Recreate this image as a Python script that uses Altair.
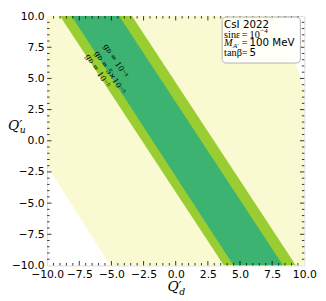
import altair as alt
import pandas as pd

# ---------------- data ----------------
# yellow region (g_D = 1e-5), horizontal area: x between xl and xr at each y
yel_y = [-10, -2.0, 4.1, 10]
yel_xl = [-5.1, -10, -10, -10]
yel_xr = [10, 10, 10, 8.1]
# light green band
lg_y = [-10, 10]
lg_xl = [3.75, -9.0]
lg_xr = [9.35, -3.4]
# dark green band
dg_y = [-10, 10]
dg_xl = [4.5, -8.1]
dg_xr = [8.35, -4.4]

band_labels = ["gᴅ = 10⁻⁴", "gᴅ = 5×10⁻⁵", "gᴅ = 10⁻⁵"]
band_lab_x = [-4.7, -5.15, -6.1]
band_lab_y = [6.4, 5.45, 5.6]

major_ticks = [-10, -7.5, -5, -2.5, 0, 2.5, 5, 7.5, 10]
inner_major = [-7.5, -5, -2.5, 0, 2.5, 5, 7.5]
minor_ticks = [-9.5, -9, -8.5, -8, -7, -6.5, -6, -5.5, -4.5, -4, -3.5, -3,
               -2, -1.5, -1, -0.5, 0.5, 1, 1.5, 2, 3, 3.5, 4, 4.5,
               5.5, 6, 6.5, 7, 8, 8.5, 9, 9.5]

W, H = 263, 255

xs = alt.Scale(domain=[-10, 10], nice=False, zero=False)
ys = alt.Scale(domain=[-10, 10], nice=False, zero=False)
ax = alt.Axis(values=major_ticks, format=".1f", title=None, ticks=False, domain=False,
              grid=False, labelFont="DejaVu Sans", labelFontSize=11, labelColor="black",
              labelPadding=3, labelFlush=False, labelOverlap=False)

def X(f):
    return alt.X(f, scale=xs, axis=ax)

def Y(f):
    return alt.Y(f, scale=ys, axis=ax)

def region(ylist, xl, xr, color):
    df = pd.DataFrame({"y": ylist, "xl": xl, "xr": xr})
    return alt.Chart(df).mark_area(orient="horizontal", clip=True, color=color).encode(
        y=Y("y:Q"), x=X("xl:Q"), x2="xr:Q")

layers = [
    region(yel_y, yel_xl, yel_xr, "#FAFAD2"),
    region(lg_y, lg_xl, lg_xr, "#9ACD32"),
    region(dg_y, dg_xl, dg_xr, "#3CB371"),
]

lab_df = pd.DataFrame({"x": band_lab_x, "y": band_lab_y, "t": band_labels})
layers.append(alt.Chart(lab_df).mark_text(angle=57, font="DejaVu Serif", fontSize=8,
                                          color="black").encode(x=X("x:Q"), y=Y("y:Q"), text="t:N"))

# inward ticks on four sides
for vals, L in [(inner_major, 4.5), (minor_ticks, 2.5)]:
    tdf = pd.DataFrame({"v": vals})
    tk = alt.Chart(tdf).mark_rule(color="black", strokeWidth=0.8)
    layers.append(tk.encode(x=X("v:Q"), y=alt.value(H), y2=alt.value(H - L)))
    layers.append(tk.encode(x=X("v:Q"), y=alt.value(0), y2=alt.value(L)))
    layers.append(tk.encode(y=Y("v:Q"), x=alt.value(0), x2=alt.value(L)))
    layers.append(tk.encode(y=Y("v:Q"), x=alt.value(W), x2=alt.value(W - L)))

# annotation box
one = pd.DataFrame({"a": [0]})
layers.append(alt.Chart(one).mark_rect(fill="white", fillOpacity=0.85, stroke="#b0b0b0",
                                      strokeWidth=1, cornerRadius=4).encode(
    x=alt.value(179), x2=alt.value(259), y=alt.value(1), y2=alt.value(48)))

def txt(t, px, py, size, font, style="normal", baseline="middle", align="left"):
    return alt.Chart(one).mark_text(text=t, font=font, fontSize=size, fontStyle=style,
                                    baseline=baseline, align=align, color="black").encode(
        x=alt.value(px), y=alt.value(py))

SANS, SERIF, MATH = "DejaVu Sans", "DejaVu Serif", "Liberation Serif"
L1, L2, L3, L4 = 9, 19, 28, 37.5
layers += [
    txt("CsI 2022", 181, L1, 10.5, SANS),
    txt("sinε", 181, L2, 10.5, MATH),
    txt("=", 199, L2, 10.5, MATH),
    txt("10", 207, L2, 10.5, MATH),
    txt("−4", 218, L2 - 3.5, 7, MATH),
    txt("M", 181, L3, 10.5, MATH, "italic"),
    txt("A′", 190, L3 + 2.5, 7, MATH, "italic"),
    txt("=", 199, L3, 10.5, MATH),
    txt("100 MeV", 207, L3, 10.5, SANS),
    txt("tanβ", 181, L4, 10.5, MATH),
    txt("=", 199, L4, 10.5, MATH),
    txt("5", 207, L4, 10.5, SANS),
    # axis titles
    txt("Q′", -40, 112, 14, SERIF, "italic"),
    txt("u", -28, 117, 9.5, SERIF, "italic"),
    txt("Q′", 123, H + 22, 14, SERIF, "italic"),
    txt("d", 135, H + 27, 9.5, SERIF, "italic"),
]

chart = alt.layer(*layers).properties(
    width=W, height=H,
    autosize=alt.AutoSizeParams(type="none"),
    padding={"left": 40, "top": 5, "right": 14, "bottom": 30},
).configure_view(stroke="black", strokeWidth=1).configure(background="white")

chart.save("out.html", embed_options={"renderer": "svg", "actions": False})
